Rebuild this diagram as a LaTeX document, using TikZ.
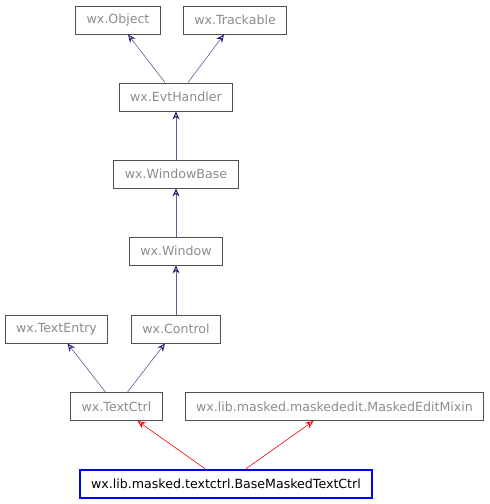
\documentclass[tikz,border=0pt]{standalone}
\usepackage{fontspec}
\setmainfont{DejaVu Sans}
\usetikzlibrary{arrows.meta}
\definecolor{edgeblue}{HTML}{191970}
\definecolor{boxgray}{HTML}{505050}
\definecolor{textgray}{HTML}{8C8C8C}
\tikzset{
  cls/.style={draw=boxgray, line width=0.9pt, text=textgray, font=\fontsize{12.6}{14}\selectfont,
    inner xsep=11pt, inner ysep=0pt, minimum height=28pt},
  this/.style={draw=blue, line width=2.6pt, text=black, font=\fontsize{12.6}{14}\selectfont,
    inner xsep=11pt, inner ysep=0pt, minimum height=28pt},
  inherit/.style={draw=edgeblue!70, line width=0.6pt, -{Stealth[length=8pt,width=7pt,open,line width=0.9pt,color=edgeblue]}},
  redinherit/.style={draw=red, line width=0.6pt, -{Stealth[length=8pt,width=7pt,open,line width=0.9pt,color=red]}}
}
\begin{document}
\begin{tikzpicture}[x=1pt, y=-1pt]
  \useasboundingbox (0,0) rectangle (490,504);
  \node[cls] (object) at (118,20) {wx.Object};
  \node[cls] (trackable) at (235,20) {wx.Trackable};
  \node[cls] (evthandler) at (176,97) {wx.EvtHandler};
  \node[cls] (windowbase) at (176,174) {wx.WindowBase};
  \node[cls] (window) at (176,251) {wx.Window};
  \node[cls] (textentry) at (56.5,329) {wx.TextEntry};
  \node[cls] (control) at (176,329) {wx.Control};
  \node[cls] (textctrl) at (116.5,406.5) {wx.TextCtrl};
  \node[cls] (mixin) at (334.5,406.5) {wx.lib.masked.maskededit.MaskedEditMixin};
  \node[this] (base) at (226,484) {wx.lib.masked.textctrl.BaseMaskedTextCtrl};
  \draw[inherit] ([xshift=-11pt]evthandler.north) -- ([xshift=10pt]object.south);
  \draw[inherit] ([xshift=12pt]evthandler.north) -- ([xshift=-11pt]trackable.south);
  \draw[inherit] (windowbase) -- (evthandler);
  \draw[inherit] (window) -- (windowbase);
  \draw[inherit] (control) -- (window);
  \draw[inherit] ([xshift=-11pt]textctrl.north) -- ([xshift=11pt]textentry.south);
  \draw[inherit] ([xshift=11pt]textctrl.north) -- ([xshift=-11pt]control.south);
  \draw[redinherit] ([xshift=-21pt]base.north) -- ([xshift=21pt]textctrl.south);
  \draw[redinherit] ([xshift=20pt]base.north) -- ([xshift=-21pt]mixin.south);
\end{tikzpicture}
\end{document}
